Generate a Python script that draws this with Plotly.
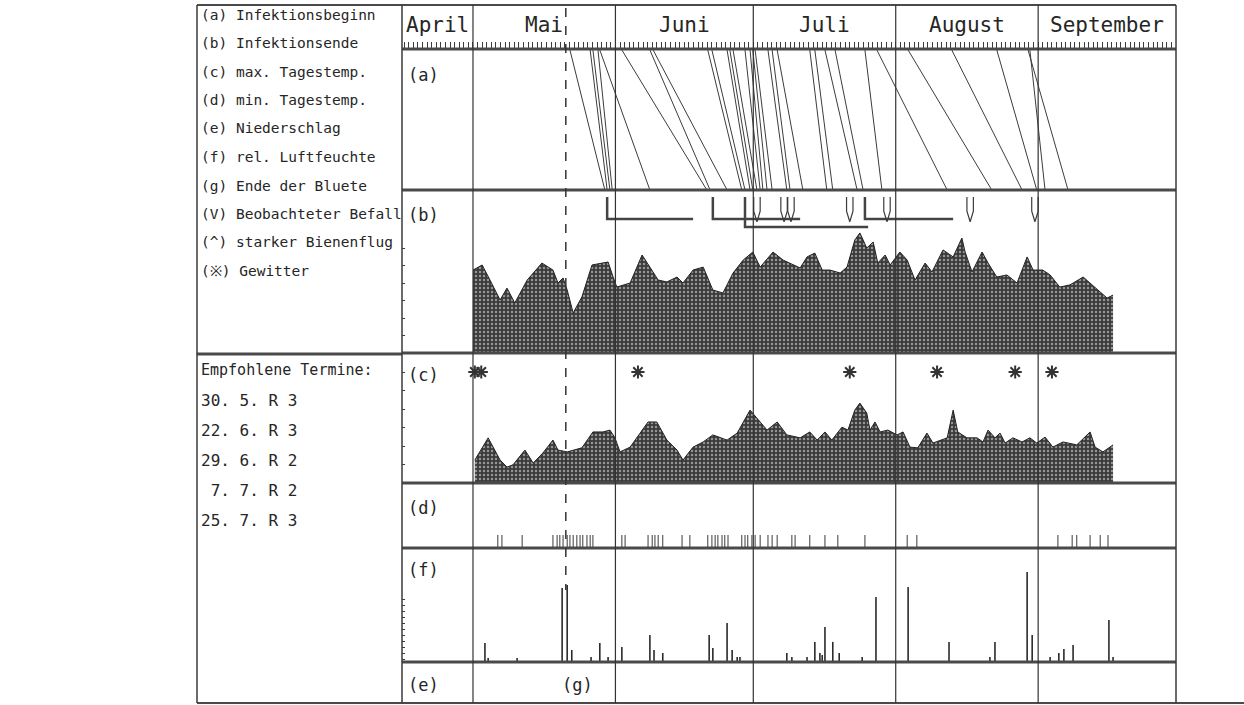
import plotly.graph_objects as go

W, H = 1244, 705

# ---------------- data ----------------
# x values are days counted from 1 April (1 April = 0)
month_names = ["April", "Mai", "Juni", "Juli", "August", "September"]
month_starts = [0, 30, 61, 91, 122, 153, 183]
x_first_day = 14.55
x_last_day = 183.0
bloom_end_day = 50.2

legend_lines = [
    "(a) Infektionsbeginn",
    "(b) Infektionsende",
    "(c) max. Tagestemp.",
    "(d) min. Tagestemp.",
    "(e) Niederschlag",
    "(f) rel. Luftfeuchte",
    "(g) Ende der Bluete",
    "(V) Beobachteter Befall",
    "(^) starker Bienenflug",
    "(※) Gewitter",
]
termine_title = "Empfohlene Termine:"
termine = ["30. 5. R 3", "22. 6. R 3", "29. 6. R 2", " 7. 7. R 2", "25. 7. R 3"]
panel_labels = ["(a)", "(b)", "(c)", "(d)", "(f)", "(e)"]

# (a) infection start -> infection end
infection_start = [51.1, 55.5, 56.1, 57.2, 57.6, 62.4, 68.5, 69.2, 81.1, 82.0, 85.3, 85.9,
                   86.6, 89.2, 90.3, 90.9, 91.4, 94.2, 95.1, 96.2, 103.3, 104.4, 106.6,
                   108.8, 115.3, 117.9, 124.7, 134.2, 144.0, 150.8, 151.2]
infection_end = [58.7, 59.2, 59.8, 60.3, 68.5, 80.9, 81.6, 85.3, 88.5, 89.2, 90.3, 90.9,
                 91.8, 92.5, 93.1, 94.0, 95.1, 98.3, 99.0, 101.8, 107.0, 108.3, 113.6,
                 114.9, 119.0, 133.2, 142.9, 149.5, 152.7, 159.5, 154.5]

# (b) panel curve
b_days = [30.0, 32.0, 33.7, 35.9, 37.4, 39.1, 41.8, 45.0, 47.4, 48.5, 49.6, 50.5, 51.8,
          53.7, 55.9, 58.3, 59.4, 60.5, 61.3, 64.2, 66.8, 68.5, 70.3, 72.2, 74.4, 75.7,
          77.9, 80.1, 82.2, 84.4, 86.6, 88.8, 90.9, 92.5, 95.3, 97.5, 101.2, 102.7, 104.4,
          106.0, 107.7, 109.9, 111.4, 113.1, 114.2, 115.7, 117.1, 118.1, 119.7, 120.8,
          122.9, 124.5, 126.2, 128.4, 129.9, 132.3, 134.5, 136.4, 137.1, 138.6, 140.8,
          142.1, 144.0, 146.2, 148.4, 150.6, 151.9, 154.0, 155.6, 157.7, 159.9, 162.8,
          164.3, 166.5, 168.0, 169.3]
b_vals = [47.4, 50.3, 41.7, 30.3, 37.1, 28.6, 41.7, 51.4, 47.4, 40.0, 42.9, 36.0, 22.9,
          32.0, 50.3, 51.4, 52.0, 43.4, 37.7, 40.0, 56.0, 49.1, 41.7, 40.6, 43.4, 40.0,
          47.4, 49.1, 36.0, 34.3, 45.7, 53.1, 57.7, 49.1, 57.7, 53.1, 48.6, 54.9, 57.1,
          47.4, 47.4, 45.7, 49.1, 64.6, 68.6, 60.0, 63.4, 51.4, 56.0, 50.3,
          57.7, 53.1, 41.7, 51.4, 46.3, 58.9, 54.9, 65.7, 57.7, 46.3, 57.7,
          51.4, 43.4, 44.6, 40.0, 54.9, 47.4, 47.4, 44.6, 37.7, 38.9, 43.4,
          40.0, 34.9, 31.4, 33.1]

# (b) bracketed periods and observed infestation
periods_upper_start = [59.2, 82.2, 115.3]
periods_upper_end = [77.9, 101.2, 134.5]
periods_lower_start = [89.2]
periods_lower_end = [116.0]
befall_days = [91.8, 97.7, 99.2, 112.0, 120.1, 138.2, 152.3]

# (c) panel curve
c_days = [30.4, 33.3, 35.9, 37.4, 38.7, 41.3, 43.1, 45.2, 47.4, 48.5, 50.5, 51.8, 53.7,
          56.1, 58.3, 59.8, 60.9, 62.0, 64.2, 68.1, 70.0, 72.2, 74.4, 75.7, 77.9, 80.1,
          82.2, 85.3, 87.5, 90.3, 91.8, 94.0, 96.2, 98.3, 101.2, 103.3, 104.9, 106.6,
          108.1, 110.3, 111.6, 113.1, 114.2, 115.7, 116.4, 117.5, 118.6, 120.3, 122.3,
          123.6, 125.1, 126.8, 128.8, 130.1, 133.2, 134.5, 135.5, 137.5, 139.7, 141.0,
          142.1, 143.6, 144.7, 145.8, 147.5, 149.5, 151.2, 152.7, 154.5, 156.2, 158.4,
          161.4, 164.3, 165.4, 167.1, 169.1, 169.3]
c_vals = [6.2, 12.2, 6.2, 4.3, 4.9, 8.9, 5.4, 8.1, 11.6, 8.9, 8.4, 8.9, 9.5,
          13.8, 13.8, 14.3, 12.2, 8.4, 9.7, 16.5, 16.5, 11.6, 8.9, 6.2, 9.7, 11.1,
          13.0, 11.6, 13.5, 19.7, 17.6, 14.3, 16.5, 13.0, 12.2, 13.8, 11.6, 13.8,
          11.6, 15.1, 14.3, 19.7, 21.6, 18.9, 14.3, 16.5, 13.8, 14.3, 13.0,
          13.8, 9.7, 9.5, 13.5, 10.8, 12.2, 19.7, 13.8, 12.2, 12.2, 11.1,
          14.3, 12.2, 13.5, 10.8, 12.2, 11.1, 12.2, 10.8, 12.4, 9.7, 11.1,
          10.3, 13.8, 9.7, 8.4, 10.3, 10.3]

# thunderstorms
gewitter_days = [30.4, 31.8, 65.9, 112.0, 131.0, 148.0, 156.0]

# (d) event ticks
d_days = [35.4, 36.3, 40.7, 47.4, 48.3, 48.9, 49.6, 50.5, 51.1, 51.8, 52.6, 53.3, 53.9,
          54.8, 55.5, 56.1, 62.4, 63.1, 68.1, 69.0, 69.6, 70.3, 71.3, 75.5, 77.2, 81.1,
          82.0, 82.7, 83.3, 84.2, 84.8, 85.5, 88.5, 89.2, 89.8, 90.7, 91.4, 92.5, 94.2,
          95.1, 96.2, 99.4, 100.1, 103.3, 106.6, 109.4, 115.3, 124.5, 126.6, 157.3,
          160.4, 161.4, 164.3, 166.5, 168.2]

# (f) spikes
f_days = [32.6, 33.3, 39.6, 49.4, 50.5, 51.5, 55.7, 57.6, 59.4, 62.4, 68.5, 69.4, 71.3,
          81.4, 82.2, 85.3, 86.4, 87.5, 88.1, 98.3, 99.4, 102.7, 104.4, 105.5, 106.0,
          106.6, 108.3, 109.7, 114.7, 117.7, 124.7, 133.6, 142.5, 143.6, 150.6, 151.7,
          155.6, 157.5, 158.6, 160.6, 168.4, 169.3]
f_vals = [6.3, 1.3, 1.3, 24.7, 25.7, 4.0, 1.7, 6.3, 1.7, 5.0, 9.0, 4.0, 3.0,
          9.0, 4.7, 13.0, 4.0, 1.7, 1.7, 3.0, 1.7, 1.7, 6.7, 3.0, 2.3,
          11.7, 6.7, 3.0, 1.7, 21.7, 25.0, 6.7, 1.7, 6.7, 30.0, 9.0,
          1.7, 3.0, 4.3, 5.7, 14.0, 1.7]

# ---------------- layout helpers ----------------
def px(x):
    return x / W


def py(y):
    return 1 - y / H


INK = "#262626"
LINE = "#3c3c3c"
MONO = "DejaVu Sans Mono"

fig = go.Figure()

# (a) slanted lines
ax, ay = [], []
for s, e in zip(infection_start, infection_end):
    ax += [s, e, None]
    ay += [1, 0, None]
fig.add_trace(go.Scatter(x=ax, y=ay, mode="lines", line=dict(color=LINE, width=1),
                         xaxis="x", yaxis="y", hoverinfo="skip"))

# (b) filled profile
pattern = dict(shape=".", bgcolor="#3a3a3a", fgcolor="#f0f0f0", size=4, solidity=0.3)
fig.add_trace(go.Scatter(x=b_days, y=b_vals, mode="lines", fill="tozeroy",
                         fillpattern=pattern, line=dict(color="#222", width=1),
                         xaxis="x", yaxis="y2", hoverinfo="skip"))

# (b) brackets
top_lvl, up_lvl, low_lvl = 89.1, 76.6, 72.0
bx, by = [], []
for s, e in zip(periods_upper_start, periods_upper_end):
    bx += [s, s, e, None]
    by += [top_lvl, up_lvl, up_lvl, None]
fig.add_trace(go.Scatter(x=bx, y=by, mode="lines", line=dict(color="#444", width=2.5),
                         xaxis="x", yaxis="y2", hoverinfo="skip"))
lx, ly = [], []
for s, e in zip(periods_lower_start, periods_lower_end):
    lx += [s, s, e, None]
    ly += [top_lvl, low_lvl, low_lvl, None]
fig.add_trace(go.Scatter(x=lx, y=ly, mode="lines", line=dict(color="#444", width=2.5),
                         xaxis="x", yaxis="y2", hoverinfo="skip"))
# V marks
vx, vy = [], []
for d in befall_days:
    vx += [d - 0.7, d - 0.7, d, d + 0.7, d + 0.7, None]
    vy += [top_lvl, 81, 75, 81, top_lvl, None]
fig.add_trace(go.Scatter(x=vx, y=vy, mode="lines", line=dict(color=LINE, width=1.2),
                         xaxis="x", yaxis="y2", hoverinfo="skip"))

# (c) filled profile
fig.add_trace(go.Scatter(x=c_days, y=c_vals, mode="lines", fill="tozeroy",
                         fillpattern=pattern, line=dict(color="#222", width=1),
                         xaxis="x", yaxis="y3", hoverinfo="skip"))
# thunderstorms
fig.add_trace(go.Scatter(x=gewitter_days, y=[30] * len(gewitter_days), mode="markers",
                         marker=dict(symbol="asterisk-open", size=11, color="#333",
                                     line=dict(color="#333", width=2)),
                         xaxis="x", yaxis="y3", hoverinfo="skip"))

# (d) ticks
dx, dy = [], []
for d in d_days:
    dx += [d, d, None]
    dy += [0, 1, None]
fig.add_trace(go.Scatter(x=dx, y=dy, mode="lines", line=dict(color=LINE, width=1),
                         xaxis="x", yaxis="y4", hoverinfo="skip"))

# (f) spikes
fx, fy = [], []
for d, v in zip(f_days, f_vals):
    fx += [d, d, None]
    fy += [0, v, None]
fig.add_trace(go.Scatter(x=fx, y=fy, mode="lines", line=dict(color="#2a2a2a", width=1.6),
                         xaxis="x", yaxis="y5", hoverinfo="skip"))

# ---------------- axes ----------------
panel_px = {"a": (50, 190), "b": (190, 353), "c": (353, 483), "d": (483, 548),
            "f": (548, 662), "e": (662, 703)}


def dom(key):
    t, b = panel_px[key]
    return [py(b), py(t)]


hidden = dict(showgrid=False, zeroline=False, showline=False, anchor="x")
fig.update_layout(
    xaxis=dict(domain=[px(402), px(1176)], range=[x_first_day, x_last_day],
               anchor="free", position=py(48), side="bottom", ticks="inside",
               tickmode="linear", tick0=0, dtick=1, ticklen=6, tickwidth=1,
               tickcolor=LINE, showticklabels=False, showgrid=False, zeroline=False,
               showline=False),
    yaxis=dict(domain=dom("a"), range=[0, 1], visible=False, **hidden),
    yaxis2=dict(domain=dom("b"), range=[0, 163 / 1.75], ticks="inside",
                tickvals=[10, 20, 30, 40, 50, 60], ticklen=3, tickcolor=LINE,
                showticklabels=False, **hidden),
    yaxis3=dict(domain=dom("c"), range=[0, 130 / 3.7], ticks="inside",
                tickvals=[5, 10, 15, 20, 25, 30], ticklen=3, tickcolor=LINE,
                showticklabels=False, **hidden),
    yaxis4=dict(domain=dom("d"), range=[0, 5], visible=False, **hidden),
    yaxis5=dict(domain=dom("f"), range=[0, 38], ticks="inside",
                tickvals=list(range(1, 23, 2)), ticklen=3, tickcolor=LINE,
                showticklabels=False, **hidden),
)

# ---------------- frame shapes ----------------
shapes = []


def hline(y, x0, x1, w, color="#4a4a4a"):
    shapes.append(dict(type="line", xref="paper", yref="paper", x0=px(x0), x1=px(x1),
                       y0=py(y), y1=py(y), line=dict(color=color, width=w)))


def vline(x, y0, y1, w, color="#3a3a3a"):
    shapes.append(dict(type="line", xref="paper", yref="paper", x0=px(x), x1=px(x),
                       y0=py(y0), y1=py(y1), line=dict(color=color, width=w)))


hline(5, 197, 1176, 2)
hline(49, 402, 1176, 3)
for key in ["a", "b", "c", "d", "f"]:
    hline(panel_px[key][1], 402, 1176, 3)
hline(354, 197, 402, 3)
hline(703, 197, 1244, 2)
vline(197, 5, 703, 1.5)
vline(402, 5, 703, 1.5)
vline(1176, 5, 703, 1.5)

for ms in month_starts[1:-1]:
    shapes.append(dict(type="line", xref="x", yref="paper", x0=ms, x1=ms,
                       y0=py(5), y1=py(703), line=dict(color="#333", width=1.2)))

shapes.append(dict(type="line", xref="x", yref="paper", x0=bloom_end_day, x1=bloom_end_day,
                   y0=py(8), y1=py(590), line=dict(color="#333", width=1.5, dash="dash")))
fig.update_layout(shapes=shapes)

# ---------------- text ----------------
ann = []
legend_y = [15, 43, 72, 100, 128, 157, 186, 214, 242, 271]
for txt, y in zip(legend_lines, legend_y):
    ann.append(dict(text=txt, x=px(199), y=py(y), xref="paper", yref="paper",
                    xanchor="left", yanchor="middle", showarrow=False,
                    font=dict(family=MONO, size=14.5, color=INK)))
ann.append(dict(text=termine_title, x=px(199), y=py(370), xref="paper", yref="paper",
                xanchor="left", yanchor="middle", showarrow=False,
                font=dict(family=MONO, size=15, color=INK)))
for i, t in enumerate(termine):
    ann.append(dict(text=t.replace(" ", "&nbsp;"), x=px(199), y=py(400 + 30 * i),
                    xref="paper", yref="paper", xanchor="left", yanchor="middle",
                    showarrow=False, font=dict(family=MONO, size=16, color=INK)))

label_y = [75, 215, 375, 508, 570, 685]
for txt, y in zip(panel_labels, label_y):
    ann.append(dict(text=txt, x=px(406), y=py(y), xref="paper", yref="paper",
                    xanchor="left", yanchor="middle", showarrow=False,
                    font=dict(family=MONO, size=17, color=INK)))
ann.append(dict(text="(g)", x=bloom_end_day + 2.5, y=py(685), xref="x", yref="paper",
                xanchor="center", yanchor="middle", showarrow=False,
                font=dict(family=MONO, size=17, color=INK)))

for name, a, b in zip(month_names, month_starts[:-1], month_starts[1:]):
    lo, hi = max(a, x_first_day), min(b, x_last_day)
    ann.append(dict(text=name, x=(lo + hi) / 2, y=py(25), xref="x", yref="paper",
                    xanchor="center", yanchor="middle", showarrow=False,
                    font=dict(family=MONO, size=21, color=INK)))
fig.update_layout(annotations=ann)

fig.update_layout(width=W, height=H, margin=dict(l=0, r=0, t=0, b=0),
                  paper_bgcolor="white", plot_bgcolor="white", showlegend=False)

fig.write_html("out.html", config={"displayModeBar": False},
               post_script="document.body.style.margin='0';")
